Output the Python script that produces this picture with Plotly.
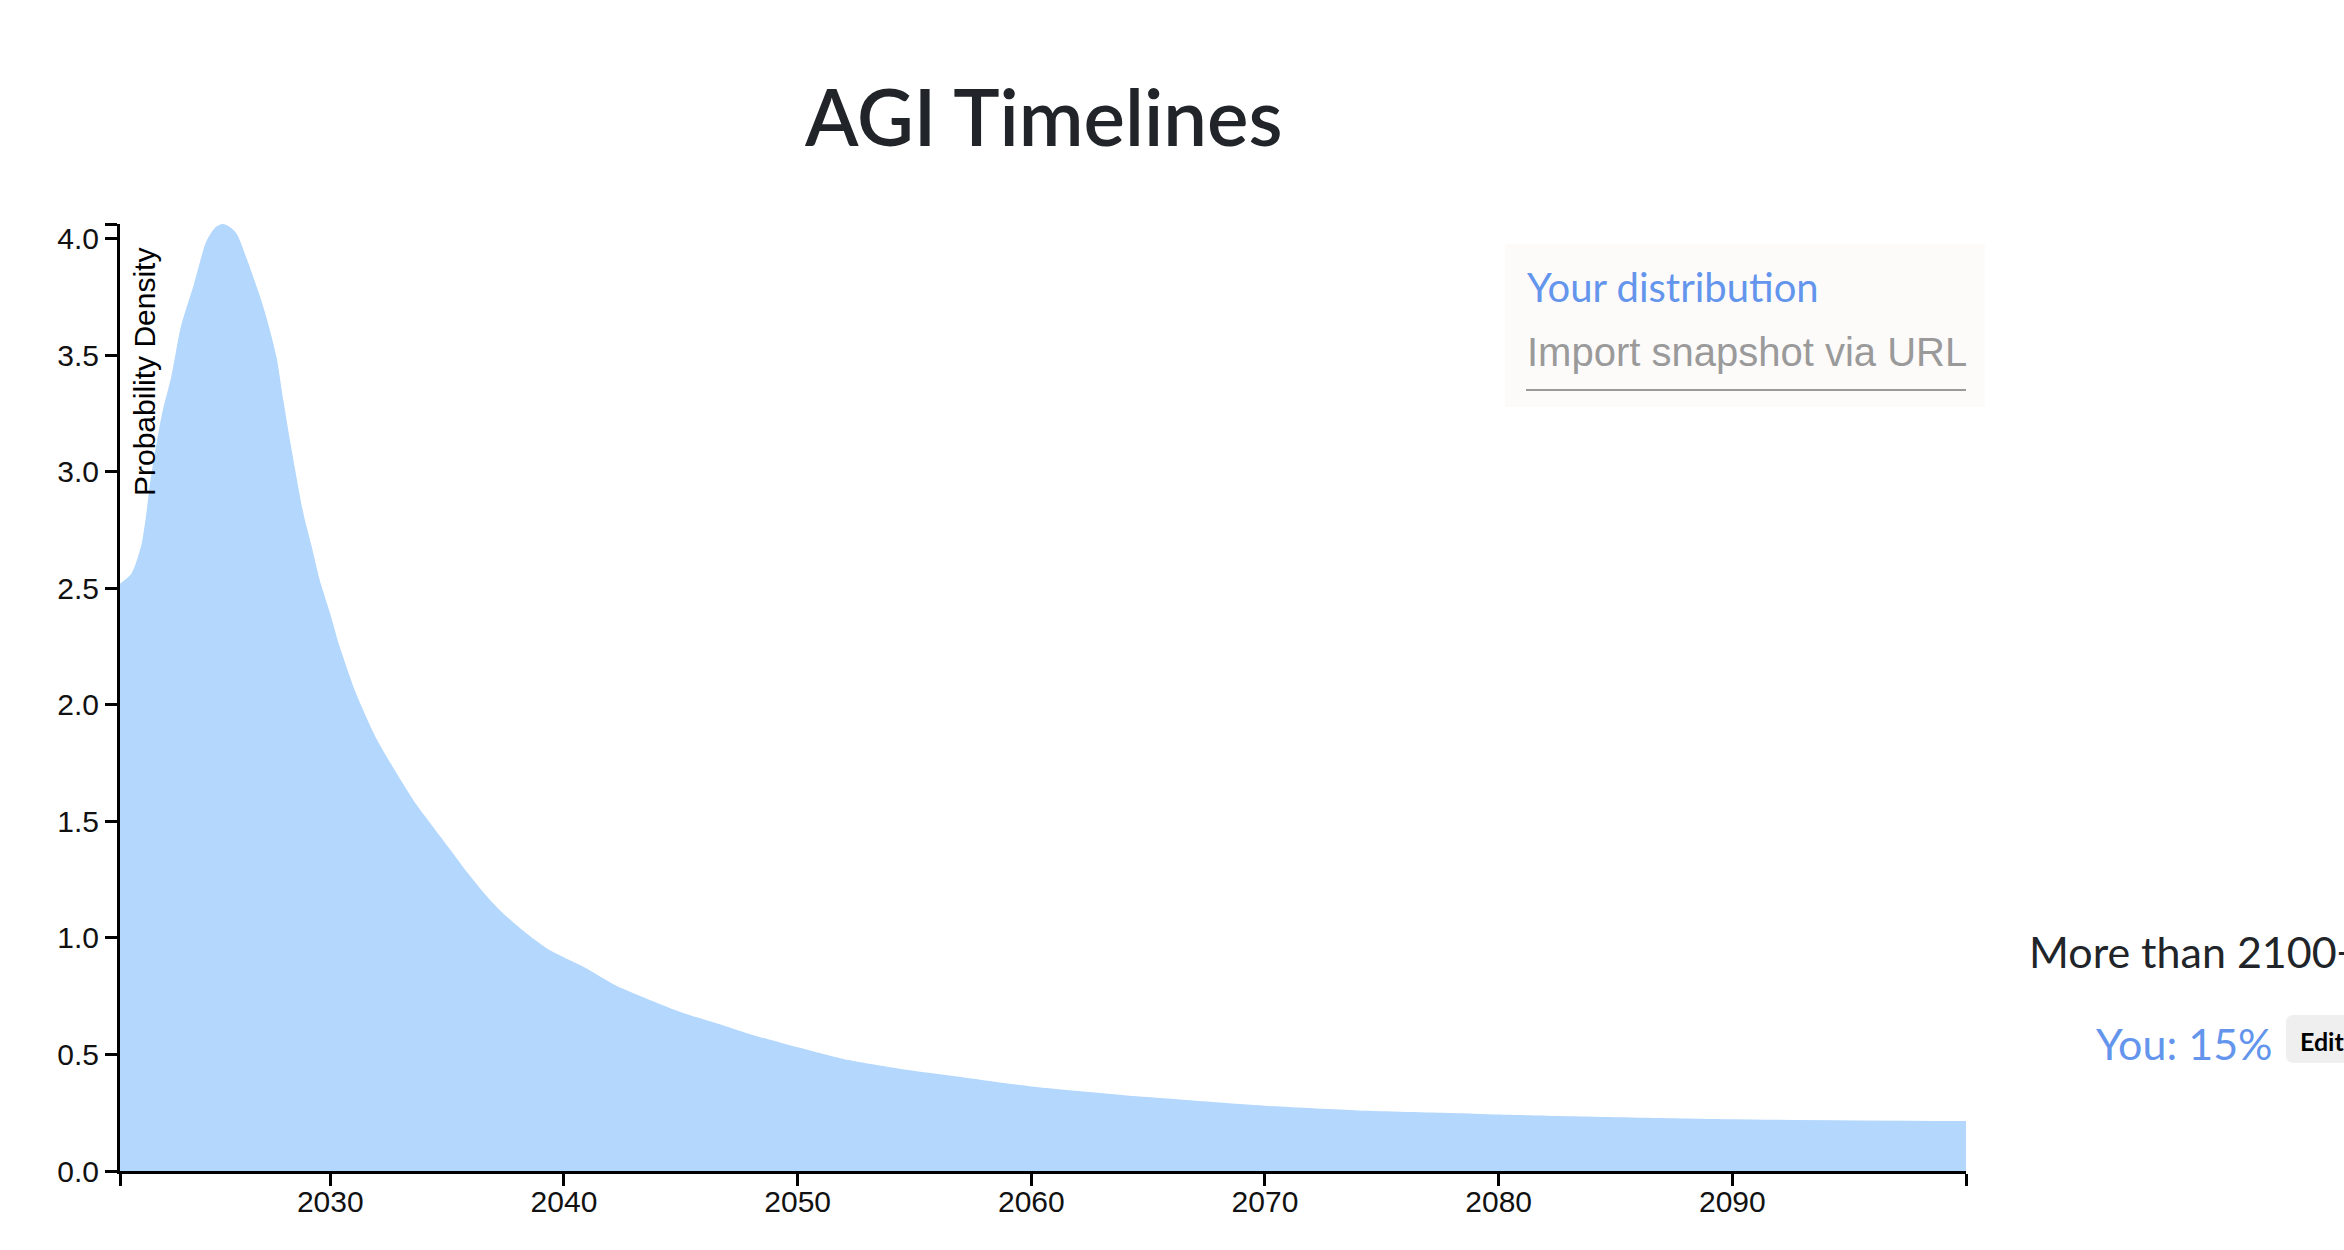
import plotly.graph_objects as go

# ---- data ----
years = [2021.0, 2021.5, 2021.9, 2022.1, 2022.3, 2022.8, 2023.2, 2023.6, 2024.15, 2024.7,
         2025.1, 2025.4, 2025.7, 2026.0, 2026.4, 2027.0, 2027.3, 2027.7, 2028.0, 2028.3,
         2028.85, 2029.2, 2029.55, 2030.0, 2030.4, 2031.1, 2032.0, 2033.0, 2033.7, 2034.4,
         2035.2, 2035.9, 2036.6, 2037.4, 2038.4, 2039.4, 2040.85, 2042.2, 2043.7, 2045.1,
         2046.6, 2047.9, 2049.4, 2050.8, 2052.25, 2054.35, 2056.5, 2060, 2065, 2070,
         2074, 2078, 2080, 2090, 2100]
density = [2.52, 2.565, 2.68, 2.80, 2.96, 3.25, 3.41, 3.62, 3.80, 3.99,
           4.05, 4.063, 4.05, 4.02, 3.92, 3.75, 3.65, 3.49, 3.30, 3.12,
           2.82, 2.68, 2.535, 2.39, 2.25, 2.05, 1.85, 1.68, 1.57, 1.476,
           1.37, 1.276, 1.19, 1.105, 1.019, 0.947, 0.875, 0.797, 0.733, 0.678,
           0.632, 0.589, 0.547, 0.51, 0.475, 0.439, 0.41, 0.363, 0.317, 0.28,
           0.26, 0.249, 0.242, 0.222, 0.214]

x_ticks = [2021, 2030, 2040, 2050, 2060, 2070, 2080, 2090, 2100]
x_ticklabels = ["", "2030", "2040", "2050", "2060", "2070", "2080", "2090", ""]
y_ticks = [0.0, 0.5, 1.0, 1.5, 2.0, 2.5, 3.0, 3.5, 4.0, 4.063]
y_ticklabels = ["0.0", "0.5", "1.0", "1.5", "2.0", "2.5", "3.0", "3.5", "4.0", ""]

title_text = "AGI Timelines"
y_label = "Probability Density"
panel_title = "Your distribution"
panel_input = "Import snapshot via URL"
bucket_label = "More than 2100+"
you_label = "You: 15%"
edit_label = "Edit"

# ---- figure geometry (pixels) ----
W, H = 2344, 1250
L, R, T, B = 120, 1966, 224, 1171
PW, PH = R - L, B - T


def px(x):
    return (x - L) / PW


def py(y):
    return (B - y) / PH


fig = go.Figure()
fig.add_trace(go.Scatter(
    x=years, y=density, mode="lines", fill="tozeroy",
    line=dict(width=0, color="#b3d7fd", shape="spline", smoothing=0.7),
    fillcolor="#b3d7fd", hoverinfo="skip", showlegend=False,
))

axis_font = dict(family="Liberation Sans, Arial, sans-serif", size=30, color="#111")

fig.update_layout(
    width=W, height=H,
    margin=dict(l=L, r=W - R, t=T, b=H - B, pad=0),
    paper_bgcolor="white", plot_bgcolor="white",
    showlegend=False, hovermode=False,
    xaxis=dict(range=[2021, 2100], tickvals=x_ticks, ticktext=x_ticklabels,
               showgrid=False, zeroline=False, showline=True, linecolor="black",
               linewidth=3, ticks="outside", ticklen=12, tickwidth=3, tickcolor="black",
               tickfont=axis_font, ticklabelstandoff=-10, fixedrange=True),
    yaxis=dict(range=[0, 4.063], tickvals=y_ticks, ticktext=y_ticklabels,
               showgrid=False, zeroline=False, showline=True, linecolor="black",
               linewidth=3, ticks="outside", ticklen=12, tickwidth=3, tickcolor="black",
               tickfont=axis_font, fixedrange=True),
)

shapes = []
# panel background
shapes.append(dict(type="rect", xref="paper", yref="paper",
                   x0=px(1505), x1=px(1985), y0=py(407), y1=py(244),
                   fillcolor="#fcfbfa", line=dict(width=0), layer="below"))
# input underline
shapes.append(dict(type="line", xref="paper", yref="paper",
                   x0=px(1526), x1=px(1966), y0=py(390), y1=py(390),
                   line=dict(color="#9a9a9a", width=2)))
# Edit button (rounded rect)
bx0, bx1, by0, by1 = 2286, 2380, 1015, 1063
rx, ry = 8, 8
path = (f"M {px(bx0 + rx)} {py(by0)} L {px(bx1 - rx)} {py(by0)} "
        f"Q {px(bx1)} {py(by0)} {px(bx1)} {py(by0 + ry)} L {px(bx1)} {py(by1 - ry)} "
        f"Q {px(bx1)} {py(by1)} {px(bx1 - rx)} {py(by1)} L {px(bx0 + rx)} {py(by1)} "
        f"Q {px(bx0)} {py(by1)} {px(bx0)} {py(by1 - ry)} L {px(bx0)} {py(by0 + ry)} "
        f"Q {px(bx0)} {py(by0)} {px(bx0 + rx)} {py(by0)} Z")
shapes.append(dict(type="path", xref="paper", yref="paper", path=path,
                   fillcolor="#efefef", line=dict(width=0)))
fig.update_layout(shapes=shapes)

ui_font = "Lato, 'Noto Sans', sans-serif"
annotations = [
    dict(text=title_text, x=0.5, y=py(116), xanchor="center", yanchor="middle",
         font=dict(family=ui_font, size=78, color="#212529", weight=600)),
    dict(text=y_label, x=px(144), y=py(372), xanchor="center", yanchor="middle",
         textangle=-90, font=dict(family="Liberation Sans, Arial, sans-serif", size=30, color="black")),
    dict(text=panel_title, x=px(1525), y=py(287), xanchor="left", yanchor="middle",
         font=dict(family=ui_font, size=40, color="#6495ed")),
    dict(text=panel_input, x=px(1525), y=py(352), xanchor="left", yanchor="middle",
         font=dict(family="Liberation Sans, Arial, sans-serif", size=40, color="#9a9a9a")),
    dict(text=bucket_label, x=px(2027), y=py(951), xanchor="left", yanchor="middle",
         font=dict(family=ui_font, size=43, color="#212529")),
    dict(text=you_label, x=px(2094), y=py(1043), xanchor="left", yanchor="middle",
         font=dict(family=ui_font, size=43, color="#6495ed")),
    dict(text=edit_label, x=px(2298), y=py(1041), xanchor="left", yanchor="middle",
         font=dict(family=ui_font, size=25, color="black", weight=700)),
]
for a in annotations:
    a.update(xref="paper", yref="paper", showarrow=False)
fig.update_layout(annotations=annotations)

fig.write_html("out.html", config={"displayModeBar": False},
               post_script="document.body.style.margin='0';document.body.style.overflow='hidden';")
